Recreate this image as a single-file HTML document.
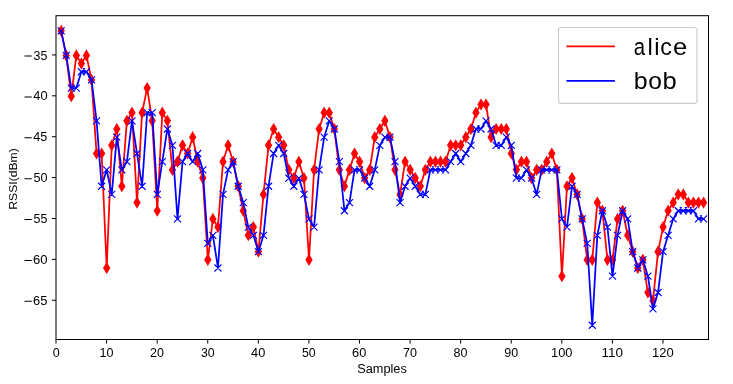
<!DOCTYPE html><html><head><meta charset="utf-8"><title>RSSI vs Samples</title><style>html,body{margin:0;padding:0;background:#fff;overflow:hidden;}svg{display:block;will-change:transform;}text{font-family:"Liberation Sans",sans-serif;fill:#000;}</style></head><body>
<svg width="733" height="384" viewBox="0 0 733 384">
<rect x="0" y="0" width="733" height="384" fill="#fff"/>
<polyline points="61.16,30.87 66.22,55.4 71.27,96.28 76.33,55.4 81.39,63.58 86.45,55.4 91.51,79.93 96.57,153.52 101.62,153.52 106.68,267.99 111.74,145.34 116.8,128.99 121.86,186.23 126.91,120.81 131.97,112.64 137.03,202.58 142.09,112.64 147.15,88.11 152.2,120.81 157.26,210.76 162.32,112.64 167.38,120.81 172.44,169.87 177.5,161.7 182.55,145.34 187.61,153.52 192.67,137.17 197.73,161.7 202.79,178.05 207.84,259.82 212.9,218.93 217.96,227.11 223.02,161.7 228.08,145.34 233.13,161.7 238.19,186.23 243.25,210.76 248.31,235.29 253.37,227.11 258.43,251.64 263.48,194.4 268.54,145.34 273.6,128.99 278.66,137.17 283.72,145.34 288.77,169.87 293.83,178.05 298.89,161.7 303.95,178.05 309.01,259.82 314.07,169.87 319.12,128.99 324.18,112.64 329.24,112.64 334.3,128.99 339.36,169.87 344.41,186.23 349.47,169.87 354.53,153.52 359.59,161.7 364.65,178.05 369.7,169.87 374.76,137.17 379.82,128.99 384.88,120.81 389.94,137.17 395,169.87 400.05,194.4 405.11,161.7 410.17,169.87 415.23,178.05 420.29,186.23 425.34,169.87 430.4,161.7 435.46,161.7 440.52,161.7 445.58,161.7 450.63,145.34 455.69,145.34 460.75,145.34 465.81,137.17 470.87,128.99 475.93,112.64 480.98,104.46 486.04,104.46 491.1,137.17 496.16,128.99 501.22,128.99 506.27,128.99 511.33,153.52 516.39,169.87 521.45,161.7 526.51,161.7 531.57,178.05 536.62,169.87 541.68,169.87 546.74,161.7 551.8,153.52 556.86,169.87 561.91,276.17 566.97,186.23 572.03,178.05 577.09,194.4 582.15,218.93 587.2,259.82 592.26,259.82 597.32,202.58 602.38,210.76 607.44,259.82 612.5,259.82 617.55,218.93 622.61,210.76 627.67,235.29 632.73,251.64 637.79,267.99 642.84,259.82 647.9,292.52 652.96,300.7 658.02,251.64 663.08,227.11 668.13,210.76 673.19,202.58 678.25,194.4 683.31,194.4 688.37,202.58 693.43,202.58 698.48,202.58 703.54,202.58" fill="none" stroke="#ff0000" stroke-width="1.75" stroke-linejoin="round" stroke-linecap="square"/>
<path d="M61.16 25.92l2.97 4.95l-2.97 4.95l-2.97 -4.95zM66.22 50.45l2.97 4.95l-2.97 4.95l-2.97 -4.95zM71.27 91.33l2.97 4.95l-2.97 4.95l-2.97 -4.95zM76.33 50.45l2.97 4.95l-2.97 4.95l-2.97 -4.95zM81.39 58.63l2.97 4.95l-2.97 4.95l-2.97 -4.95zM86.45 50.45l2.97 4.95l-2.97 4.95l-2.97 -4.95zM91.51 74.98l2.97 4.95l-2.97 4.95l-2.97 -4.95zM96.57 148.57l2.97 4.95l-2.97 4.95l-2.97 -4.95zM101.62 148.57l2.97 4.95l-2.97 4.95l-2.97 -4.95zM106.68 263.04l2.97 4.95l-2.97 4.95l-2.97 -4.95zM111.74 140.39l2.97 4.95l-2.97 4.95l-2.97 -4.95zM116.8 124.04l2.97 4.95l-2.97 4.95l-2.97 -4.95zM121.86 181.28l2.97 4.95l-2.97 4.95l-2.97 -4.95zM126.91 115.86l2.97 4.95l-2.97 4.95l-2.97 -4.95zM131.97 107.69l2.97 4.95l-2.97 4.95l-2.97 -4.95zM137.03 197.63l2.97 4.95l-2.97 4.95l-2.97 -4.95zM142.09 107.69l2.97 4.95l-2.97 4.95l-2.97 -4.95zM147.15 83.16l2.97 4.95l-2.97 4.95l-2.97 -4.95zM152.2 115.86l2.97 4.95l-2.97 4.95l-2.97 -4.95zM157.26 205.81l2.97 4.95l-2.97 4.95l-2.97 -4.95zM162.32 107.69l2.97 4.95l-2.97 4.95l-2.97 -4.95zM167.38 115.86l2.97 4.95l-2.97 4.95l-2.97 -4.95zM172.44 164.92l2.97 4.95l-2.97 4.95l-2.97 -4.95zM177.5 156.75l2.97 4.95l-2.97 4.95l-2.97 -4.95zM182.55 140.39l2.97 4.95l-2.97 4.95l-2.97 -4.95zM187.61 148.57l2.97 4.95l-2.97 4.95l-2.97 -4.95zM192.67 132.22l2.97 4.95l-2.97 4.95l-2.97 -4.95zM197.73 156.75l2.97 4.95l-2.97 4.95l-2.97 -4.95zM202.79 173.1l2.97 4.95l-2.97 4.95l-2.97 -4.95zM207.84 254.87l2.97 4.95l-2.97 4.95l-2.97 -4.95zM212.9 213.98l2.97 4.95l-2.97 4.95l-2.97 -4.95zM217.96 222.16l2.97 4.95l-2.97 4.95l-2.97 -4.95zM223.02 156.75l2.97 4.95l-2.97 4.95l-2.97 -4.95zM228.08 140.39l2.97 4.95l-2.97 4.95l-2.97 -4.95zM233.13 156.75l2.97 4.95l-2.97 4.95l-2.97 -4.95zM238.19 181.28l2.97 4.95l-2.97 4.95l-2.97 -4.95zM243.25 205.81l2.97 4.95l-2.97 4.95l-2.97 -4.95zM248.31 230.34l2.97 4.95l-2.97 4.95l-2.97 -4.95zM253.37 222.16l2.97 4.95l-2.97 4.95l-2.97 -4.95zM258.43 246.69l2.97 4.95l-2.97 4.95l-2.97 -4.95zM263.48 189.45l2.97 4.95l-2.97 4.95l-2.97 -4.95zM268.54 140.39l2.97 4.95l-2.97 4.95l-2.97 -4.95zM273.6 124.04l2.97 4.95l-2.97 4.95l-2.97 -4.95zM278.66 132.22l2.97 4.95l-2.97 4.95l-2.97 -4.95zM283.72 140.39l2.97 4.95l-2.97 4.95l-2.97 -4.95zM288.77 164.92l2.97 4.95l-2.97 4.95l-2.97 -4.95zM293.83 173.1l2.97 4.95l-2.97 4.95l-2.97 -4.95zM298.89 156.75l2.97 4.95l-2.97 4.95l-2.97 -4.95zM303.95 173.1l2.97 4.95l-2.97 4.95l-2.97 -4.95zM309.01 254.87l2.97 4.95l-2.97 4.95l-2.97 -4.95zM314.07 164.92l2.97 4.95l-2.97 4.95l-2.97 -4.95zM319.12 124.04l2.97 4.95l-2.97 4.95l-2.97 -4.95zM324.18 107.69l2.97 4.95l-2.97 4.95l-2.97 -4.95zM329.24 107.69l2.97 4.95l-2.97 4.95l-2.97 -4.95zM334.3 124.04l2.97 4.95l-2.97 4.95l-2.97 -4.95zM339.36 164.92l2.97 4.95l-2.97 4.95l-2.97 -4.95zM344.41 181.28l2.97 4.95l-2.97 4.95l-2.97 -4.95zM349.47 164.92l2.97 4.95l-2.97 4.95l-2.97 -4.95zM354.53 148.57l2.97 4.95l-2.97 4.95l-2.97 -4.95zM359.59 156.75l2.97 4.95l-2.97 4.95l-2.97 -4.95zM364.65 173.1l2.97 4.95l-2.97 4.95l-2.97 -4.95zM369.7 164.92l2.97 4.95l-2.97 4.95l-2.97 -4.95zM374.76 132.22l2.97 4.95l-2.97 4.95l-2.97 -4.95zM379.82 124.04l2.97 4.95l-2.97 4.95l-2.97 -4.95zM384.88 115.86l2.97 4.95l-2.97 4.95l-2.97 -4.95zM389.94 132.22l2.97 4.95l-2.97 4.95l-2.97 -4.95zM395 164.92l2.97 4.95l-2.97 4.95l-2.97 -4.95zM400.05 189.45l2.97 4.95l-2.97 4.95l-2.97 -4.95zM405.11 156.75l2.97 4.95l-2.97 4.95l-2.97 -4.95zM410.17 164.92l2.97 4.95l-2.97 4.95l-2.97 -4.95zM415.23 173.1l2.97 4.95l-2.97 4.95l-2.97 -4.95zM420.29 181.28l2.97 4.95l-2.97 4.95l-2.97 -4.95zM425.34 164.92l2.97 4.95l-2.97 4.95l-2.97 -4.95zM430.4 156.75l2.97 4.95l-2.97 4.95l-2.97 -4.95zM435.46 156.75l2.97 4.95l-2.97 4.95l-2.97 -4.95zM440.52 156.75l2.97 4.95l-2.97 4.95l-2.97 -4.95zM445.58 156.75l2.97 4.95l-2.97 4.95l-2.97 -4.95zM450.63 140.39l2.97 4.95l-2.97 4.95l-2.97 -4.95zM455.69 140.39l2.97 4.95l-2.97 4.95l-2.97 -4.95zM460.75 140.39l2.97 4.95l-2.97 4.95l-2.97 -4.95zM465.81 132.22l2.97 4.95l-2.97 4.95l-2.97 -4.95zM470.87 124.04l2.97 4.95l-2.97 4.95l-2.97 -4.95zM475.93 107.69l2.97 4.95l-2.97 4.95l-2.97 -4.95zM480.98 99.51l2.97 4.95l-2.97 4.95l-2.97 -4.95zM486.04 99.51l2.97 4.95l-2.97 4.95l-2.97 -4.95zM491.1 132.22l2.97 4.95l-2.97 4.95l-2.97 -4.95zM496.16 124.04l2.97 4.95l-2.97 4.95l-2.97 -4.95zM501.22 124.04l2.97 4.95l-2.97 4.95l-2.97 -4.95zM506.27 124.04l2.97 4.95l-2.97 4.95l-2.97 -4.95zM511.33 148.57l2.97 4.95l-2.97 4.95l-2.97 -4.95zM516.39 164.92l2.97 4.95l-2.97 4.95l-2.97 -4.95zM521.45 156.75l2.97 4.95l-2.97 4.95l-2.97 -4.95zM526.51 156.75l2.97 4.95l-2.97 4.95l-2.97 -4.95zM531.57 173.1l2.97 4.95l-2.97 4.95l-2.97 -4.95zM536.62 164.92l2.97 4.95l-2.97 4.95l-2.97 -4.95zM541.68 164.92l2.97 4.95l-2.97 4.95l-2.97 -4.95zM546.74 156.75l2.97 4.95l-2.97 4.95l-2.97 -4.95zM551.8 148.57l2.97 4.95l-2.97 4.95l-2.97 -4.95zM556.86 164.92l2.97 4.95l-2.97 4.95l-2.97 -4.95zM561.91 271.22l2.97 4.95l-2.97 4.95l-2.97 -4.95zM566.97 181.28l2.97 4.95l-2.97 4.95l-2.97 -4.95zM572.03 173.1l2.97 4.95l-2.97 4.95l-2.97 -4.95zM577.09 189.45l2.97 4.95l-2.97 4.95l-2.97 -4.95zM582.15 213.98l2.97 4.95l-2.97 4.95l-2.97 -4.95zM587.2 254.87l2.97 4.95l-2.97 4.95l-2.97 -4.95zM592.26 254.87l2.97 4.95l-2.97 4.95l-2.97 -4.95zM597.32 197.63l2.97 4.95l-2.97 4.95l-2.97 -4.95zM602.38 205.81l2.97 4.95l-2.97 4.95l-2.97 -4.95zM607.44 254.87l2.97 4.95l-2.97 4.95l-2.97 -4.95zM612.5 254.87l2.97 4.95l-2.97 4.95l-2.97 -4.95zM617.55 213.98l2.97 4.95l-2.97 4.95l-2.97 -4.95zM622.61 205.81l2.97 4.95l-2.97 4.95l-2.97 -4.95zM627.67 230.34l2.97 4.95l-2.97 4.95l-2.97 -4.95zM632.73 246.69l2.97 4.95l-2.97 4.95l-2.97 -4.95zM637.79 263.04l2.97 4.95l-2.97 4.95l-2.97 -4.95zM642.84 254.87l2.97 4.95l-2.97 4.95l-2.97 -4.95zM647.9 287.58l2.97 4.95l-2.97 4.95l-2.97 -4.95zM652.96 295.75l2.97 4.95l-2.97 4.95l-2.97 -4.95zM658.02 246.69l2.97 4.95l-2.97 4.95l-2.97 -4.95zM663.08 222.16l2.97 4.95l-2.97 4.95l-2.97 -4.95zM668.13 205.81l2.97 4.95l-2.97 4.95l-2.97 -4.95zM673.19 197.63l2.97 4.95l-2.97 4.95l-2.97 -4.95zM678.25 189.45l2.97 4.95l-2.97 4.95l-2.97 -4.95zM683.31 189.45l2.97 4.95l-2.97 4.95l-2.97 -4.95zM688.37 197.63l2.97 4.95l-2.97 4.95l-2.97 -4.95zM693.43 197.63l2.97 4.95l-2.97 4.95l-2.97 -4.95zM698.48 197.63l2.97 4.95l-2.97 4.95l-2.97 -4.95zM703.54 197.63l2.97 4.95l-2.97 4.95l-2.97 -4.95z" fill="#ff0000" stroke="#ff0000" stroke-width="1.167" stroke-linejoin="miter"/>
<polyline points="61.16,30.87 66.22,55.4 71.27,88.11 76.33,88.11 81.39,71.75 86.45,71.75 91.51,79.93 96.57,120.81 101.62,186.23 106.68,169.87 111.74,194.4 116.8,137.17 121.86,169.87 126.91,161.7 131.97,120.81 137.03,153.52 142.09,186.23 147.15,112.64 152.2,112.64 157.26,194.4 162.32,161.7 167.38,128.99 172.44,145.34 177.5,218.93 182.55,161.7 187.61,153.52 192.67,161.7 197.73,153.52 202.79,169.87 207.84,243.46 212.9,235.29 217.96,267.99 223.02,194.4 228.08,169.87 233.13,161.7 238.19,186.23 243.25,202.58 248.31,227.11 253.37,235.29 258.43,251.64 263.48,235.29 268.54,186.23 273.6,153.52 278.66,145.34 283.72,153.52 288.77,178.05 293.83,186.23 298.89,178.05 303.95,194.4 309.01,218.93 314.07,227.11 319.12,169.87 324.18,137.17 329.24,120.81 334.3,128.99 339.36,161.7 344.41,210.76 349.47,202.58 354.53,169.87 359.59,169.87 364.65,178.05 369.7,186.23 374.76,169.87 379.82,145.34 384.88,137.17 389.94,137.17 395,161.7 400.05,202.58 405.11,186.23 410.17,178.05 415.23,186.23 420.29,194.4 425.34,194.4 430.4,169.87 435.46,169.87 440.52,169.87 445.58,169.87 450.63,161.7 455.69,153.52 460.75,161.7 465.81,153.52 470.87,145.34 475.93,128.99 480.98,128.99 486.04,120.81 491.1,128.99 496.16,145.34 501.22,145.34 506.27,137.17 511.33,145.34 516.39,178.05 521.45,178.05 526.51,169.87 531.57,178.05 536.62,194.4 541.68,169.87 546.74,169.87 551.8,169.87 556.86,169.87 561.91,218.93 566.97,227.11 572.03,186.23 577.09,194.4 582.15,218.93 587.2,243.46 592.26,325.23 597.32,235.29 602.38,210.76 607.44,227.11 612.5,276.17 617.55,235.29 622.61,210.76 627.67,218.93 632.73,251.64 637.79,267.99 642.84,259.82 647.9,276.17 652.96,308.88 658.02,292.52 663.08,251.64 668.13,235.29 673.19,218.93 678.25,210.76 683.31,210.76 688.37,210.76 693.43,210.76 698.48,218.93 703.54,218.93" fill="none" stroke="#0000ff" stroke-width="1.75" stroke-linejoin="round" stroke-linecap="square"/>
<path d="M57.66 27.37l7 7M57.66 34.37l7 -7M62.72 51.9l7 7M62.72 58.9l7 -7M67.77 84.61l7 7M67.77 91.61l7 -7M72.83 84.61l7 7M72.83 91.61l7 -7M77.89 68.25l7 7M77.89 75.25l7 -7M82.95 68.25l7 7M82.95 75.25l7 -7M88.01 76.43l7 7M88.01 83.43l7 -7M93.07 117.31l7 7M93.07 124.31l7 -7M98.12 182.73l7 7M98.12 189.73l7 -7M103.18 166.37l7 7M103.18 173.37l7 -7M108.24 190.9l7 7M108.24 197.9l7 -7M113.3 133.67l7 7M113.3 140.67l7 -7M118.36 166.37l7 7M118.36 173.37l7 -7M123.41 158.2l7 7M123.41 165.2l7 -7M128.47 117.31l7 7M128.47 124.31l7 -7M133.53 150.02l7 7M133.53 157.02l7 -7M138.59 182.73l7 7M138.59 189.73l7 -7M143.65 109.14l7 7M143.65 116.14l7 -7M148.7 109.14l7 7M148.7 116.14l7 -7M153.76 190.9l7 7M153.76 197.9l7 -7M158.82 158.2l7 7M158.82 165.2l7 -7M163.88 125.49l7 7M163.88 132.49l7 -7M168.94 141.84l7 7M168.94 148.84l7 -7M174 215.43l7 7M174 222.43l7 -7M179.05 158.2l7 7M179.05 165.2l7 -7M184.11 150.02l7 7M184.11 157.02l7 -7M189.17 158.2l7 7M189.17 165.2l7 -7M194.23 150.02l7 7M194.23 157.02l7 -7M199.29 166.37l7 7M199.29 173.37l7 -7M204.34 239.96l7 7M204.34 246.96l7 -7M209.4 231.79l7 7M209.4 238.79l7 -7M214.46 264.49l7 7M214.46 271.49l7 -7M219.52 190.9l7 7M219.52 197.9l7 -7M224.58 166.37l7 7M224.58 173.37l7 -7M229.63 158.2l7 7M229.63 165.2l7 -7M234.69 182.73l7 7M234.69 189.73l7 -7M239.75 199.08l7 7M239.75 206.08l7 -7M244.81 223.61l7 7M244.81 230.61l7 -7M249.87 231.79l7 7M249.87 238.79l7 -7M254.93 248.14l7 7M254.93 255.14l7 -7M259.98 231.79l7 7M259.98 238.79l7 -7M265.04 182.73l7 7M265.04 189.73l7 -7M270.1 150.02l7 7M270.1 157.02l7 -7M275.16 141.84l7 7M275.16 148.84l7 -7M280.22 150.02l7 7M280.22 157.02l7 -7M285.27 174.55l7 7M285.27 181.55l7 -7M290.33 182.73l7 7M290.33 189.73l7 -7M295.39 174.55l7 7M295.39 181.55l7 -7M300.45 190.9l7 7M300.45 197.9l7 -7M305.51 215.43l7 7M305.51 222.43l7 -7M310.57 223.61l7 7M310.57 230.61l7 -7M315.62 166.37l7 7M315.62 173.37l7 -7M320.68 133.67l7 7M320.68 140.67l7 -7M325.74 117.31l7 7M325.74 124.31l7 -7M330.8 125.49l7 7M330.8 132.49l7 -7M335.86 158.2l7 7M335.86 165.2l7 -7M340.91 207.26l7 7M340.91 214.26l7 -7M345.97 199.08l7 7M345.97 206.08l7 -7M351.03 166.37l7 7M351.03 173.37l7 -7M356.09 166.37l7 7M356.09 173.37l7 -7M361.15 174.55l7 7M361.15 181.55l7 -7M366.2 182.73l7 7M366.2 189.73l7 -7M371.26 166.37l7 7M371.26 173.37l7 -7M376.32 141.84l7 7M376.32 148.84l7 -7M381.38 133.67l7 7M381.38 140.67l7 -7M386.44 133.67l7 7M386.44 140.67l7 -7M391.5 158.2l7 7M391.5 165.2l7 -7M396.55 199.08l7 7M396.55 206.08l7 -7M401.61 182.73l7 7M401.61 189.73l7 -7M406.67 174.55l7 7M406.67 181.55l7 -7M411.73 182.73l7 7M411.73 189.73l7 -7M416.79 190.9l7 7M416.79 197.9l7 -7M421.84 190.9l7 7M421.84 197.9l7 -7M426.9 166.37l7 7M426.9 173.37l7 -7M431.96 166.37l7 7M431.96 173.37l7 -7M437.02 166.37l7 7M437.02 173.37l7 -7M442.08 166.37l7 7M442.08 173.37l7 -7M447.13 158.2l7 7M447.13 165.2l7 -7M452.19 150.02l7 7M452.19 157.02l7 -7M457.25 158.2l7 7M457.25 165.2l7 -7M462.31 150.02l7 7M462.31 157.02l7 -7M467.37 141.84l7 7M467.37 148.84l7 -7M472.43 125.49l7 7M472.43 132.49l7 -7M477.48 125.49l7 7M477.48 132.49l7 -7M482.54 117.31l7 7M482.54 124.31l7 -7M487.6 125.49l7 7M487.6 132.49l7 -7M492.66 141.84l7 7M492.66 148.84l7 -7M497.72 141.84l7 7M497.72 148.84l7 -7M502.77 133.67l7 7M502.77 140.67l7 -7M507.83 141.84l7 7M507.83 148.84l7 -7M512.89 174.55l7 7M512.89 181.55l7 -7M517.95 174.55l7 7M517.95 181.55l7 -7M523.01 166.37l7 7M523.01 173.37l7 -7M528.07 174.55l7 7M528.07 181.55l7 -7M533.12 190.9l7 7M533.12 197.9l7 -7M538.18 166.37l7 7M538.18 173.37l7 -7M543.24 166.37l7 7M543.24 173.37l7 -7M548.3 166.37l7 7M548.3 173.37l7 -7M553.36 166.37l7 7M553.36 173.37l7 -7M558.41 215.43l7 7M558.41 222.43l7 -7M563.47 223.61l7 7M563.47 230.61l7 -7M568.53 182.73l7 7M568.53 189.73l7 -7M573.59 190.9l7 7M573.59 197.9l7 -7M578.65 215.43l7 7M578.65 222.43l7 -7M583.7 239.96l7 7M583.7 246.96l7 -7M588.76 321.73l7 7M588.76 328.73l7 -7M593.82 231.79l7 7M593.82 238.79l7 -7M598.88 207.26l7 7M598.88 214.26l7 -7M603.94 223.61l7 7M603.94 230.61l7 -7M609 272.67l7 7M609 279.67l7 -7M614.05 231.79l7 7M614.05 238.79l7 -7M619.11 207.26l7 7M619.11 214.26l7 -7M624.17 215.43l7 7M624.17 222.43l7 -7M629.23 248.14l7 7M629.23 255.14l7 -7M634.29 264.49l7 7M634.29 271.49l7 -7M639.34 256.32l7 7M639.34 263.32l7 -7M644.4 272.67l7 7M644.4 279.67l7 -7M649.46 305.38l7 7M649.46 312.38l7 -7M654.52 289.02l7 7M654.52 296.02l7 -7M659.58 248.14l7 7M659.58 255.14l7 -7M664.63 231.79l7 7M664.63 238.79l7 -7M669.69 215.43l7 7M669.69 222.43l7 -7M674.75 207.26l7 7M674.75 214.26l7 -7M679.81 207.26l7 7M679.81 214.26l7 -7M684.87 207.26l7 7M684.87 214.26l7 -7M689.93 207.26l7 7M689.93 214.26l7 -7M694.98 215.43l7 7M694.98 222.43l7 -7M700.04 215.43l7 7M700.04 222.43l7 -7" fill="none" stroke="#0000ff" stroke-width="1.167" stroke-linecap="butt"/>
<rect x="56.0" y="15.7" width="652.5" height="323.8" fill="none" stroke="#000" stroke-width="1"/>
<path d="M56 339.5v4.08M106.58 339.5v4.08M157.16 339.5v4.08M207.74 339.5v4.08M258.33 339.5v4.08M308.91 339.5v4.08M359.49 339.5v4.08M410.07 339.5v4.08M460.65 339.5v4.08M511.23 339.5v4.08M561.81 339.5v4.08M612.4 339.5v4.08M662.98 339.5v4.08M56 54.95h-4.08M56 95.83h-4.08M56 136.72h-4.08M56 177.6h-4.08M56 218.48h-4.08M56 259.37h-4.08M56 300.25h-4.08" stroke="#000" stroke-width="1" fill="none"/>
<path d="M24.5 55.5H31.8v1H24.5zM24.5 96.38H31.8v1H24.5zM24.5 137.27H31.8v1H24.5zM24.5 178.15H31.8v1H24.5zM24.5 219.03H31.8v1H24.5zM24.5 259.92H31.8v1H24.5zM24.5 300.8H31.8v1H24.5z" fill="#000"/>
<rect x="558.5" y="27.5" width="138.5" height="75.9" rx="2.6" ry="2.6" fill="#fff" fill-opacity="0.8" stroke="#cccccc" stroke-width="1.17"/>
<path d="M566.4 46.4H614.9" stroke="#ff0000" stroke-width="1.75"/>
<path d="M566.4 80.9H614.9" stroke="#0000ff" stroke-width="1.75"/>
<text x="33.5" y="60" font-size="12.36" textLength="13.77" lengthAdjust="spacingAndGlyphs">35</text>
<text x="33.25" y="100" font-size="12.36" textLength="14.29" lengthAdjust="spacingAndGlyphs">40</text>
<text x="33.25" y="141" font-size="12.36" textLength="14.03" lengthAdjust="spacingAndGlyphs">45</text>
<text x="33.5" y="182" font-size="12.36" textLength="14.04" lengthAdjust="spacingAndGlyphs">50</text>
<text x="33.5" y="223" font-size="12.36" textLength="13.77" lengthAdjust="spacingAndGlyphs">55</text>
<text x="33" y="264" font-size="12.36" textLength="14.59" lengthAdjust="spacingAndGlyphs">60</text>
<text x="33" y="305" font-size="12.36" textLength="14.32" lengthAdjust="spacingAndGlyphs">65</text>
<text x="52.65" y="357" font-size="12.36" textLength="6.99" lengthAdjust="spacingAndGlyphs">0</text>
<text x="99.63" y="357" font-size="12.36" textLength="13.96" lengthAdjust="spacingAndGlyphs">10</text>
<text x="149.96" y="357" font-size="12.36" textLength="13.95" lengthAdjust="spacingAndGlyphs">20</text>
<text x="201.04" y="357" font-size="12.36" textLength="13.67" lengthAdjust="spacingAndGlyphs">30</text>
<text x="251.13" y="357" font-size="12.36" textLength="14.2" lengthAdjust="spacingAndGlyphs">40</text>
<text x="301.96" y="357" font-size="12.36" textLength="13.68" lengthAdjust="spacingAndGlyphs">50</text>
<text x="352.04" y="357" font-size="12.36" textLength="14.21" lengthAdjust="spacingAndGlyphs">60</text>
<text x="403.12" y="357" font-size="12.36" textLength="13.95" lengthAdjust="spacingAndGlyphs">70</text>
<text x="453.45" y="357" font-size="12.36" textLength="13.95" lengthAdjust="spacingAndGlyphs">80</text>
<text x="504.28" y="357" font-size="12.36" textLength="13.94" lengthAdjust="spacingAndGlyphs">90</text>
<text x="551.01" y="357" font-size="12.36" textLength="21.46" lengthAdjust="spacingAndGlyphs">100</text>
<text x="601.6" y="357" font-size="12.36" textLength="21.44" lengthAdjust="spacingAndGlyphs">110</text>
<text x="651.93" y="357" font-size="12.36" textLength="21.71" lengthAdjust="spacingAndGlyphs">120</text>
<text x="357.25" y="373" font-size="12" textLength="49.51" lengthAdjust="spacingAndGlyphs">Samples</text>
<text transform="translate(16.55 209.75) rotate(-90)" font-size="10.93" textLength="61.51" lengthAdjust="spacingAndGlyphs">RSSI(dBm)</text>
<text y="55" font-size="24.5"><tspan x="633.64" textLength="11.36" lengthAdjust="spacingAndGlyphs">a</tspan><tspan x="647.50" textLength="5.30" lengthAdjust="spacingAndGlyphs">l</tspan><tspan x="654.20" textLength="5.30" lengthAdjust="spacingAndGlyphs">i</tspan><tspan x="660.33" textLength="11.57" lengthAdjust="spacingAndGlyphs">c</tspan><tspan x="673.03" textLength="14.20" lengthAdjust="spacingAndGlyphs">e</tspan></text>
<text y="89" font-size="24.5"><tspan x="633.71" textLength="13.84" lengthAdjust="spacingAndGlyphs">b</tspan><tspan x="648.17" textLength="13.67" lengthAdjust="spacingAndGlyphs">o</tspan><tspan x="662.46" textLength="14.21" lengthAdjust="spacingAndGlyphs">b</tspan></text>
</svg></body></html>
